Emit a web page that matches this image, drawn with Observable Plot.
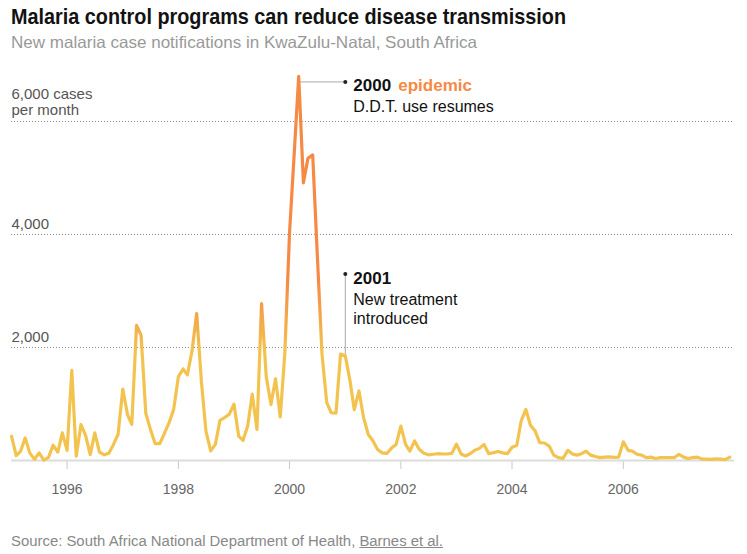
<!DOCTYPE html>
<html>
<head>
<meta charset="utf-8">
<script src="https://cdn.jsdelivr.net/npm/d3@7"></script>
<script src="https://cdn.jsdelivr.net/npm/@observablehq/plot@0.6"></script>
<style>
  html, body { margin: 0; padding: 0; background: #fff; }
  body { width: 747px; height: 554px; position: relative; overflow: hidden; font-family: "Liberation Sans", Arial, sans-serif; }
  .fit { position: absolute; left: 11px; white-space: nowrap; transform-origin: 0 0; }
  #title { top: 6px; font: bold 22px/22px "Liberation Sans", Arial, sans-serif; color: #121212; }
  #subtitle { top: 34px; font: 16.5px/16.5px "Liberation Sans", Arial, sans-serif; color: #999; }
  #source { top: 534px; font: 14px/14px "Liberation Sans", Arial, sans-serif; color: #888; }
  #source span.u { text-decoration: underline; }
  #chart { position: absolute; left: 0; top: 60px; }
  #chart .tick line, #chart g[aria-label="x-axis tick"] path { stroke: #c8c8c8; }
</style>
</head>
<body>
<div id="title" class="fit" data-w="555">Malaria control programs can reduce disease transmission</div>
<div id="subtitle" class="fit" data-w="466">New malaria case notifications in KwaZulu-Natal, South Africa</div>
<div id="chart"></div>
<div id="source" class="fit" data-w="432">Source: South Africa National Department of Health, <span class="u">Barnes et al.</span></div>
<script>
// Monthly new malaria case notifications, Jan–Dec of each year
const years = [1995, 1996, 1997, 1998, 1999, 2000, 2001, 2002, 2003, 2004, 2005, 2006, 2007];
const cases1995 = [430, 85, 160, 400, 135, 20, 135, 5, 55, 270, 150, 490];
const cases1996 = [180, 1595, 75, 635, 450, 105, 490, 150, 100, 130, 285, 465];
const cases1997 = [1265, 810, 640, 2390, 2220, 835, 555, 300, 300, 480, 670, 905];
const cases1998 = [1485, 1620, 1515, 1950, 2600, 1400, 520, 170, 285, 710, 760, 820];
const cases1999 = [995, 430, 355, 610, 1175, 550, 2775, 1480, 990, 1445, 770, 1900];
const cases2000 = [4035, 5450, 6800, 4915, 5350, 5410, 3650, 1885, 1025, 845, 840, 1885];
const cases2001 = [1855, 1410, 900, 1230, 760, 460, 350, 195, 135, 125, 220, 285];
const cases2002 = [610, 285, 165, 345, 200, 130, 100, 110, 120, 115, 115, 125];
const cases2003 = [290, 115, 80, 120, 180, 215, 285, 120, 140, 160, 135, 120];
const cases2004 = [235, 265, 700, 905, 625, 520, 315, 310, 255, 95, 50, 35];
const cases2005 = [180, 115, 95, 120, 165, 95, 70, 50, 60, 65, 55, 60];
const cases2006 = [330, 180, 165, 110, 95, 50, 60, 35, 50, 50, 50, 50];
const cases2007 = [110, 60, 35, 50, 60, 25, 25, 20, 30, 25, 15, 60];
const caseSeries = [cases1995, cases1996, cases1997, cases1998, cases1999, cases2000, cases2001,
                    cases2002, cases2003, cases2004, cases2005, cases2006, cases2007];

// Axis
const xDomain = ["1995-01-01", "2008-01-01"];
const xTickYears = [1996, 1998, 2000, 2002, 2004, 2006];
const gridValues = [2000, 4000, 6000];
const gridLabels = ["2,000", "4,000", "6,000 cases"];
const gridUnit = ["per month"];

// Annotations
const noteDates = ["2001-01-01", "2001-01-01"];
const noteLevels = [6700, 3300];
const noteFromDates = ["2000-03-01", "2001-01-01"];
const noteFromLevels = [6700, 1855];
const noteYears = ["2000", "2001"];
const noteTags = ["epidemic"];
const noteLine1 = ["D.D.T. use resumes", "New treatment"];
const noteLine2 = ["introduced"];

const yellow = "#f3c34f";
const orange = "#f68a45";

const data = years.flatMap((yr, i) => caseSeries[i].map((v, m) => ({date: new Date(Date.UTC(yr, m, 1)), cases: v})));
const parse = s => new Date(s + "T00:00:00Z");
const notes = noteDates.map((d, i) => ({
  date: parse(d), level: noteLevels[i], from: parse(noteFromDates[i]), fromLevel: noteFromLevels[i],
  year: noteYears[i], line1: noteLine1[i]
}));
const startDate = parse(xDomain[0]);
const gridRows = gridValues.map((v, i) => ({v, label: gridLabels[i]}));

const font = `"Liberation Sans", Arial, sans-serif`;

const chart = Plot.plot({
  width: 747,
  height: 450,
  marginLeft: 11,
  marginRight: 13,
  marginTop: 61,
  marginBottom: 50,
  style: {fontFamily: font, fontSize: "14px", color: "#666", background: "transparent", overflow: "visible"},
  x: {type: "utc", domain: xDomain.map(parse), ticks: xTickYears.map(y => new Date(Date.UTC(y, 0, 1))),
      tickFormat: d3.utcFormat("%Y"), tickSize: 9, tickPadding: 15, label: null},
  y: {domain: [0, 6000], axis: null},
  marks: [
    Plot.ruleY(gridValues, {stroke: "#888", strokeDasharray: "1,2", strokeWidth: 1}),
    Plot.text(gridRows.slice(0, 2), {x: () => startDate, y: "v", text: "label", textAnchor: "start", lineAnchor: "bottom",
      dy: -6, fill: "#555", fontSize: 15}),
    Plot.text(gridRows.slice(2), {x: () => startDate, y: "v", text: "label", textAnchor: "start", lineAnchor: "bottom",
      dy: -23, fill: "#555", fontSize: 15}),
    Plot.text(gridUnit, {x: () => startDate, y: () => gridValues[2], text: d => d, textAnchor: "start", lineAnchor: "bottom",
      dy: -7, fill: "#555", fontSize: 15}),
    Plot.ruleY([0], {stroke: "#dcdcdc", strokeWidth: 2}),
    Plot.link(notes, {x1: "from", y1: "fromLevel", x2: "date", y2: "level", stroke: "#aaa", strokeWidth: 1}),
    Plot.lineY(data, {x: "date", y: "cases", stroke: "url(#malariaGradient)", strokeWidth: 3.2}),
    Plot.dot(notes, {x: "date", y: "level", r: 2, fill: "#222"}),
    Plot.text(notes, {x: "date", y: "level", text: "year", textAnchor: "start", lineAnchor: "bottom",
      dx: 8, dy: 9.5, fill: "#111", fontSize: 17, fontWeight: "bold"}),
    Plot.text(notes.slice(0, 1), {x: "date", y: "level", text: () => noteTags[0], textAnchor: "start", lineAnchor: "bottom",
      dx: 53, dy: 9.5, fill: orange, fontSize: 17, fontWeight: "bold"}),
    Plot.text(notes, {x: "date", y: "level", text: "line1", textAnchor: "start", lineAnchor: "bottom",
      dx: 8, dy: 30.5, fill: "#111", fontSize: 16}),
    Plot.text(notes.slice(1), {x: "date", y: "level", text: () => noteLine2[0], textAnchor: "start", lineAnchor: "bottom",
      dx: 8, dy: 49.5, fill: "#111", fontSize: 16})
  ]
});

document.getElementById("chart").appendChild(chart);

// Vertical colour gradient: yellow for normal levels, orange for epidemic levels
const svg = chart.tagName.toLowerCase() === "svg" ? chart : chart.querySelector("svg");
const vmax = d3.max(data, d => d.cases), vmin = d3.min(data, d => d.cases);
const off = v => Math.max(0, Math.min(1, (vmax - v) / (vmax - vmin)));
const ns = "http://www.w3.org/2000/svg";
const defs = document.createElementNS(ns, "defs");
const grad = document.createElementNS(ns, "linearGradient");
grad.setAttribute("id", "malariaGradient");
grad.setAttribute("x1", "0"); grad.setAttribute("y1", "0");
grad.setAttribute("x2", "0"); grad.setAttribute("y2", "1");
[[off(3200), orange], [off(1900), yellow]].forEach(([o, c]) => {
  const s = document.createElementNS(ns, "stop");
  s.setAttribute("offset", o);
  s.setAttribute("stop-color", c);
  grad.appendChild(s);
});
defs.appendChild(grad);
svg.insertBefore(defs, svg.firstChild);

// Fit text widths to the reference layout
document.querySelectorAll(".fit").forEach(el => {
  const w = el.getBoundingClientRect().width;
  const target = +el.dataset.w;
  if (w > 0) {
    const k = Math.max(0.8, Math.min(1.2, target / w));
    el.style.transform = `scaleX(${k})`;
  }
});
</script>
</body>
</html>
